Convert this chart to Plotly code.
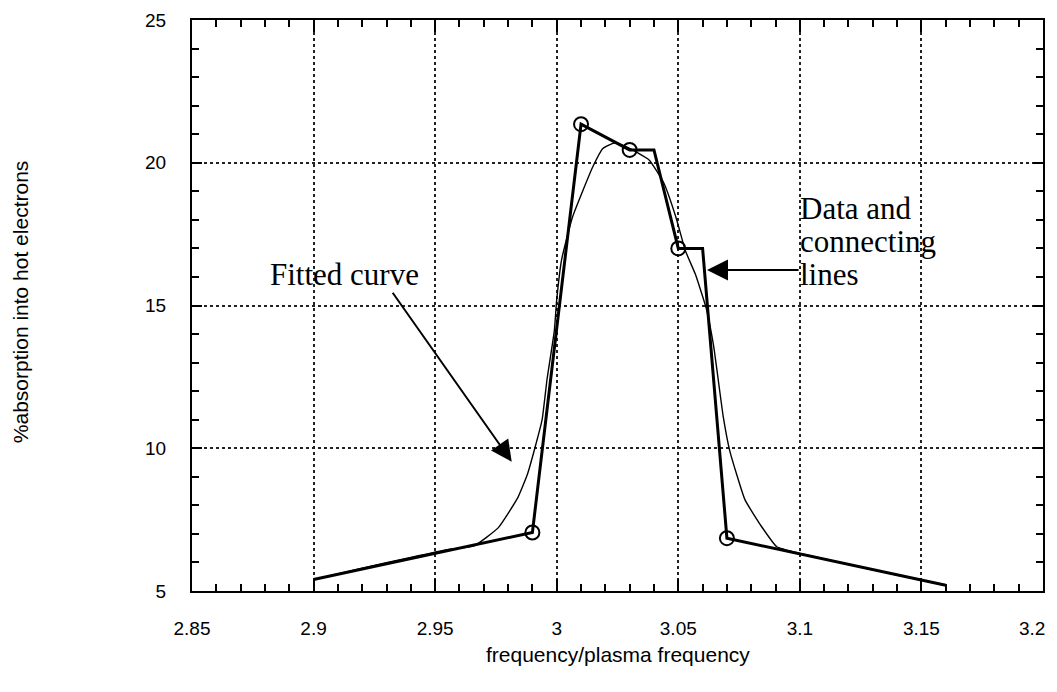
import plotly.graph_objects as go

# ---- data ----
# thick "data and connecting lines" path (includes step corners and end points)
line_x = [2.90, 2.99, 3.01, 3.03, 3.04, 3.05, 3.06, 3.07, 3.16]
line_y = [5.40, 7.05, 21.35, 20.45, 20.45, 17.0, 17.0, 6.85, 5.20]

# measured data points (open circles)
point_x = [2.99, 3.01, 3.03, 3.05, 3.07]
point_y = [7.05, 21.35, 20.45, 17.0, 6.85]

# thin fitted curve
fit_x = [2.90, 2.92, 2.94, 2.955, 2.966, 2.976, 2.984, 2.988, 2.991, 2.994,
         2.996, 2.999, 3.000, 3.002, 3.0065, 3.0148, 3.019, 3.024, 3.030,
         3.038, 3.044, 3.049, 3.053, 3.057, 3.0615, 3.0645, 3.0685, 3.0712,
         3.0774, 3.0843, 3.0905, 3.10, 3.12, 3.14, 3.16]
fit_y = [5.40, 5.80, 6.18, 6.45, 6.58, 7.22, 8.27, 9.10, 10.0, 11.0,
         12.4, 14.1, 15.2, 16.6, 18.1, 19.85, 20.5, 20.7, 20.5,
         20.1, 19.3, 18.1, 16.9, 16.1, 14.9, 13.6, 11.1, 9.9,
         8.2, 7.25, 6.55, 6.32, 5.93, 5.56, 5.20]

x_ticks = [2.85, 2.9, 2.95, 3.0, 3.05, 3.1, 3.15, 3.2]
x_tick_text = ["2.85", "2.9", "2.95", "3", "3.05", "3.1", "3.15", "3.2"]
y_ticks = [5, 10, 15, 20, 25]
y_tick_text = ["5", "10", "15", "20", "25"]

x_title = "frequency/plasma frequency"
y_title = "%absorption into hot electrons"
label_fit = "Fitted curve"
label_data = ["Data and", "connecting", "lines"]

# the last x label sits at the window edge; it is drawn right-aligned as an annotation
x_tick_shown = x_tick_text[:-1] + [""]

tick_font = dict(family="Liberation Sans, Arial, sans-serif", size=19, color="black")

fig = go.Figure()

fig.add_trace(go.Scatter(
    x=fit_x, y=fit_y, mode="lines",
    line=dict(color="black", width=1.4, shape="spline", smoothing=0.4),
    hoverinfo="skip", showlegend=False))

fig.add_trace(go.Scatter(
    x=line_x, y=line_y, mode="lines",
    line=dict(color="black", width=3),
    showlegend=False))

fig.add_trace(go.Scatter(
    x=point_x, y=point_y, mode="markers",
    marker=dict(symbol="circle-open", size=14, color="black",
                line=dict(color="black", width=2)),
    showlegend=False))

axis_common = dict(
    showline=True, linecolor="black", linewidth=2, mirror="ticks",
    ticks="inside", tickcolor="black", tickwidth=2,
    showgrid=True, gridcolor="#222222", gridwidth=1.5, griddash="dot",
    zeroline=False,
    tickfont=tick_font,
    automargin=False,
)

fig.update_xaxes(
    range=[2.85, 3.2], tickmode="array", tickvals=x_ticks, ticktext=x_tick_shown,
    ticklen=12, ticklabelstandoff=19,
    minor=dict(dtick=0.01, tick0=2.85, ticks="inside", ticklen=7,
               tickcolor="black", tickwidth=2, showgrid=False),
    **axis_common)

fig.update_yaxes(
    range=[5, 25], tickmode="array", tickvals=y_ticks, ticktext=y_tick_text,
    ticklen=10, ticklabelstandoff=20,
    minor=dict(dtick=1, tick0=5, ticks="inside", ticklen=7,
               tickcolor="black", tickwidth=2, showgrid=False),
    **axis_common)

ann_font = dict(family="Liberation Serif, Times New Roman, serif", size=31, color="black")

annotations = [
    # last x tick label
    dict(text=x_tick_text[-1], xref="x", yref="paper", x=x_ticks[-1], y=-0.0648,
         xanchor="right", yanchor="middle", xshift=4, showarrow=False, font=tick_font),
    # axis titles
    dict(text=x_title, xref="paper", yref="paper", x=0.5, y=-0.112,
         xanchor="center", yanchor="middle", showarrow=False,
         font=dict(family="Liberation Sans, Arial, sans-serif", size=21, color="black")),
    dict(text=y_title, xref="paper", yref="paper", x=-0.202, y=0.506,
         xanchor="center", yanchor="middle", showarrow=False, textangle=-90,
         font=dict(family="Liberation Sans, Arial, sans-serif", size=21, color="black")),
    # "Fitted curve" label and arrow
    dict(text=label_fit, xref="x", yref="y", x=2.8813, y=16.1,
         xanchor="left", yanchor="middle", showarrow=False, font=ann_font),
    dict(text="", xref="x", yref="y", x=2.9815, y=9.53,
         axref="x", ayref="y", ax=2.9321, ay=15.5,
         showarrow=True, arrowhead=2, arrowsize=2.1, arrowwidth=2, arrowcolor="black"),
    # "Data and connecting lines" label and arrow
    dict(text=label_data[0], xref="x", yref="y", x=3.0993, y=18.4,
         xanchor="left", yanchor="middle", showarrow=False, font=ann_font),
    dict(text=label_data[1], xref="x", yref="y", x=3.0993, y=17.25,
         xanchor="left", yanchor="middle", showarrow=False, font=ann_font),
    dict(text=label_data[2], xref="x", yref="y", x=3.0993, y=16.1,
         xanchor="left", yanchor="middle", showarrow=False, font=ann_font),
    dict(text="", xref="x", yref="y", x=3.0618, y=16.24,
         axref="x", ayref="y", ax=3.1001, ay=16.24,
         showarrow=True, arrowhead=2, arrowsize=2.1, arrowwidth=2, arrowcolor="black"),
]

# the page body has an 8px default margin; size the figure so the page does not overflow
fig.update_layout(
    width=1049, height=676,
    margin=dict(l=184, r=14, t=12, b=93),
    paper_bgcolor="white", plot_bgcolor="white",
    annotations=annotations,
    showlegend=False,
)

fig.write_html("out.html")
